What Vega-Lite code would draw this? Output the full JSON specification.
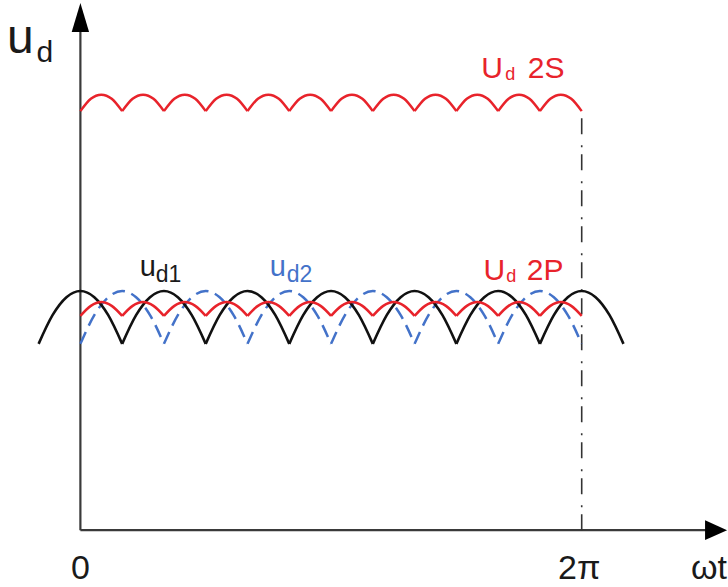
{
  "$schema": "https://vega.github.io/schema/vega-lite/v6.json",
  "width": 728,
  "height": 587,
  "autosize": {"type": "fit", "contains": "padding"},
  "padding": 0,
  "background": "white",
  "config": {"view": {"stroke": null}, "text": {"font": "Liberation Sans"}},
  "datasets": {
    "ud1": [
      {"g":0,"x":-30,"v":0.779},{"g":0,"x":-20,"v":0.899},{"g":0,"x":-10,"v":0.974},{"g":0,"x":0,"v":1.0},{"g":0,"x":10,"v":0.974},{"g":0,"x":20,"v":0.899},{"g":0,"x":30,"v":0.779},
      {"g":60,"x":30,"v":0.779},{"g":60,"x":40,"v":0.899},{"g":60,"x":50,"v":0.974},{"g":60,"x":60,"v":1.0},{"g":60,"x":70,"v":0.974},{"g":60,"x":80,"v":0.899},{"g":60,"x":90,"v":0.779},
      {"g":120,"x":90,"v":0.779},{"g":120,"x":100,"v":0.899},{"g":120,"x":110,"v":0.974},{"g":120,"x":120,"v":1.0},{"g":120,"x":130,"v":0.974},{"g":120,"x":140,"v":0.899},{"g":120,"x":150,"v":0.779},
      {"g":180,"x":150,"v":0.779},{"g":180,"x":160,"v":0.899},{"g":180,"x":170,"v":0.974},{"g":180,"x":180,"v":1.0},{"g":180,"x":190,"v":0.974},{"g":180,"x":200,"v":0.899},{"g":180,"x":210,"v":0.779},
      {"g":240,"x":210,"v":0.779},{"g":240,"x":220,"v":0.899},{"g":240,"x":230,"v":0.974},{"g":240,"x":240,"v":1.0},{"g":240,"x":250,"v":0.974},{"g":240,"x":260,"v":0.899},{"g":240,"x":270,"v":0.779},
      {"g":300,"x":270,"v":0.779},{"g":300,"x":280,"v":0.899},{"g":300,"x":290,"v":0.974},{"g":300,"x":300,"v":1.0},{"g":300,"x":310,"v":0.974},{"g":300,"x":320,"v":0.899},{"g":300,"x":330,"v":0.779},
      {"g":360,"x":330,"v":0.779},{"g":360,"x":340,"v":0.899},{"g":360,"x":350,"v":0.974},{"g":360,"x":360,"v":1.0},{"g":360,"x":370,"v":0.974},{"g":360,"x":380,"v":0.899},{"g":360,"x":390,"v":0.779}
    ],
    "ud2": [
      {"g":30,"x":0,"v":0.779},{"g":30,"x":10,"v":0.899},{"g":30,"x":20,"v":0.974},{"g":30,"x":30,"v":1.0},{"g":30,"x":40,"v":0.974},{"g":30,"x":50,"v":0.899},{"g":30,"x":60,"v":0.779},
      {"g":90,"x":60,"v":0.779},{"g":90,"x":70,"v":0.899},{"g":90,"x":80,"v":0.974},{"g":90,"x":90,"v":1.0},{"g":90,"x":100,"v":0.974},{"g":90,"x":110,"v":0.899},{"g":90,"x":120,"v":0.779},
      {"g":150,"x":120,"v":0.779},{"g":150,"x":130,"v":0.899},{"g":150,"x":140,"v":0.974},{"g":150,"x":150,"v":1.0},{"g":150,"x":160,"v":0.974},{"g":150,"x":170,"v":0.899},{"g":150,"x":180,"v":0.779},
      {"g":210,"x":180,"v":0.779},{"g":210,"x":190,"v":0.899},{"g":210,"x":200,"v":0.974},{"g":210,"x":210,"v":1.0},{"g":210,"x":220,"v":0.974},{"g":210,"x":230,"v":0.899},{"g":210,"x":240,"v":0.779},
      {"g":270,"x":240,"v":0.779},{"g":270,"x":250,"v":0.899},{"g":270,"x":260,"v":0.974},{"g":270,"x":270,"v":1.0},{"g":270,"x":280,"v":0.974},{"g":270,"x":290,"v":0.899},{"g":270,"x":300,"v":0.779},
      {"g":330,"x":300,"v":0.779},{"g":330,"x":310,"v":0.899},{"g":330,"x":320,"v":0.974},{"g":330,"x":330,"v":1.0},{"g":330,"x":340,"v":0.974},{"g":330,"x":350,"v":0.899},{"g":330,"x":360,"v":0.779}
    ],
    "p2": [
      {"g":0,"x":0,"v":0.896},{"g":0,"x":7.5,"v":0.938},{"g":0,"x":15,"v":0.954},{"g":0,"x":22.5,"v":0.938},{"g":0,"x":30,"v":0.896},
      {"g":1,"x":30,"v":0.896},{"g":1,"x":37.5,"v":0.938},{"g":1,"x":45,"v":0.954},{"g":1,"x":52.5,"v":0.938},{"g":1,"x":60,"v":0.896},
      {"g":2,"x":60,"v":0.896},{"g":2,"x":67.5,"v":0.938},{"g":2,"x":75,"v":0.954},{"g":2,"x":82.5,"v":0.938},{"g":2,"x":90,"v":0.896},
      {"g":3,"x":90,"v":0.896},{"g":3,"x":97.5,"v":0.938},{"g":3,"x":105,"v":0.954},{"g":3,"x":112.5,"v":0.938},{"g":3,"x":120,"v":0.896},
      {"g":4,"x":120,"v":0.896},{"g":4,"x":127.5,"v":0.938},{"g":4,"x":135,"v":0.954},{"g":4,"x":142.5,"v":0.938},{"g":4,"x":150,"v":0.896},
      {"g":5,"x":150,"v":0.896},{"g":5,"x":157.5,"v":0.938},{"g":5,"x":165,"v":0.954},{"g":5,"x":172.5,"v":0.938},{"g":5,"x":180,"v":0.896},
      {"g":6,"x":180,"v":0.896},{"g":6,"x":187.5,"v":0.938},{"g":6,"x":195,"v":0.954},{"g":6,"x":202.5,"v":0.938},{"g":6,"x":210,"v":0.896},
      {"g":7,"x":210,"v":0.896},{"g":7,"x":217.5,"v":0.938},{"g":7,"x":225,"v":0.954},{"g":7,"x":232.5,"v":0.938},{"g":7,"x":240,"v":0.896},
      {"g":8,"x":240,"v":0.896},{"g":8,"x":247.5,"v":0.938},{"g":8,"x":255,"v":0.954},{"g":8,"x":262.5,"v":0.938},{"g":8,"x":270,"v":0.896},
      {"g":9,"x":270,"v":0.896},{"g":9,"x":277.5,"v":0.938},{"g":9,"x":285,"v":0.954},{"g":9,"x":292.5,"v":0.938},{"g":9,"x":300,"v":0.896},
      {"g":10,"x":300,"v":0.896},{"g":10,"x":307.5,"v":0.938},{"g":10,"x":315,"v":0.954},{"g":10,"x":322.5,"v":0.938},{"g":10,"x":330,"v":0.896},
      {"g":11,"x":330,"v":0.896},{"g":11,"x":337.5,"v":0.938},{"g":11,"x":345,"v":0.954},{"g":11,"x":352.5,"v":0.938},{"g":11,"x":360,"v":0.896}
    ],
    "s2": [
      {"g":0,"x":0,"v":1.752},{"g":0,"x":7.5,"v":1.804},{"g":0,"x":15,"v":1.821},{"g":0,"x":22.5,"v":1.804},{"g":0,"x":30,"v":1.752},
      {"g":1,"x":30,"v":1.752},{"g":1,"x":37.5,"v":1.804},{"g":1,"x":45,"v":1.821},{"g":1,"x":52.5,"v":1.804},{"g":1,"x":60,"v":1.752},
      {"g":2,"x":60,"v":1.752},{"g":2,"x":67.5,"v":1.804},{"g":2,"x":75,"v":1.821},{"g":2,"x":82.5,"v":1.804},{"g":2,"x":90,"v":1.752},
      {"g":3,"x":90,"v":1.752},{"g":3,"x":97.5,"v":1.804},{"g":3,"x":105,"v":1.821},{"g":3,"x":112.5,"v":1.804},{"g":3,"x":120,"v":1.752},
      {"g":4,"x":120,"v":1.752},{"g":4,"x":127.5,"v":1.804},{"g":4,"x":135,"v":1.821},{"g":4,"x":142.5,"v":1.804},{"g":4,"x":150,"v":1.752},
      {"g":5,"x":150,"v":1.752},{"g":5,"x":157.5,"v":1.804},{"g":5,"x":165,"v":1.821},{"g":5,"x":172.5,"v":1.804},{"g":5,"x":180,"v":1.752},
      {"g":6,"x":180,"v":1.752},{"g":6,"x":187.5,"v":1.804},{"g":6,"x":195,"v":1.821},{"g":6,"x":202.5,"v":1.804},{"g":6,"x":210,"v":1.752},
      {"g":7,"x":210,"v":1.752},{"g":7,"x":217.5,"v":1.804},{"g":7,"x":225,"v":1.821},{"g":7,"x":232.5,"v":1.804},{"g":7,"x":240,"v":1.752},
      {"g":8,"x":240,"v":1.752},{"g":8,"x":247.5,"v":1.804},{"g":8,"x":255,"v":1.821},{"g":8,"x":262.5,"v":1.804},{"g":8,"x":270,"v":1.752},
      {"g":9,"x":270,"v":1.752},{"g":9,"x":277.5,"v":1.804},{"g":9,"x":285,"v":1.821},{"g":9,"x":292.5,"v":1.804},{"g":9,"x":300,"v":1.752},
      {"g":10,"x":300,"v":1.752},{"g":10,"x":307.5,"v":1.804},{"g":10,"x":315,"v":1.821},{"g":10,"x":322.5,"v":1.804},{"g":10,"x":330,"v":1.752},
      {"g":11,"x":330,"v":1.752},{"g":11,"x":337.5,"v":1.804},{"g":11,"x":345,"v":1.821},{"g":11,"x":352.5,"v":1.804},{"g":11,"x":360,"v":1.752}
    ],
    "axes": [
      {"x":0,"x2":0,"v":0,"v2":2.1},
      {"x":0,"x2":450,"v":0,"v2":0}
    ],
    "marker": [{"x":360,"v":0,"v2":1.752}],
    "arrowUp": [{"x":0,"v":2.144}],
    "arrowRight": [{"x":456.5,"v":0}],
    "labels": [
      {"role":"bigU","t":"u","x":-52.7,"v":1.996},
      {"role":"bigSub","t":"d","x":-31.6,"v":1.958},
      {"role":"tick","t":"0","x":0,"v":-0.206},
      {"role":"tick","t":"2π","x":358.2,"v":-0.204},
      {"role":"tick","t":"ωt","x":451.4,"v":-0.204},
      {"role":"redU","t":"U","x":287.9,"v":1.892},
      {"role":"redSub","t":"d","x":305.1,"v":1.883},
      {"role":"redU","t":"2S","x":321.3,"v":1.892},
      {"role":"redU","t":"U","x":289.4,"v":1.046},
      {"role":"redSub","t":"d","x":305.9,"v":1.0375},
      {"role":"redU","t":"2P","x":320.6,"v":1.046},
      {"role":"blackU","t":"u","x":42.7,"v":1.0625},
      {"role":"blackSub","t":"d1","x":54.1,"v":1.0375},
      {"role":"blueU","t":"u","x":135.9,"v":1.0625},
      {"role":"blueSub","t":"d2","x":148.1,"v":1.0375}
    ]
  },
  "encoding": {
    "x": {"field": "x", "type": "quantitative", "scale": {"domain": [-57.73, 464.34], "nice": false, "zero": false}, "axis": null},
    "y": {"field": "v", "type": "quantitative", "scale": {"domain": [-0.2292, 2.2167], "nice": false, "zero": false}, "axis": null}
  },
  "layer": [
    {"data": {"name": "axes"}, "mark": {"type": "rule", "color": "#3a3a3a", "strokeWidth": 2.2}, "encoding": {"x2": {"field": "x2"}, "y2": {"field": "v2"}}},
    {"data": {"name": "marker"}, "mark": {"type": "rule", "color": "#333333", "strokeWidth": 1.6, "strokeDash": [16, 7, 2, 11]}, "encoding": {"y2": {"field": "v2"}}},
    {"data": {"name": "arrowUp"}, "mark": {"type": "point", "filled": true, "opacity": 1, "color": "#000000", "size": 841, "shape": "M0,-1L0.6,1L-0.6,1Z"}},
    {"data": {"name": "arrowRight"}, "mark": {"type": "point", "filled": true, "opacity": 1, "color": "#000000", "size": 484, "shape": "M1,0L-1,-0.9L-1,0.9Z"}},
    {"data": {"name": "ud2"}, "mark": {"type": "line", "color": "#4372c9", "strokeWidth": 2.5, "strokeDash": [13, 7], "interpolate": "monotone"}, "encoding": {"detail": {"field": "g"}}},
    {"data": {"name": "ud1"}, "mark": {"type": "line", "color": "#111111", "strokeWidth": 2.6, "interpolate": "monotone"}, "encoding": {"detail": {"field": "g"}}},
    {"data": {"name": "p2"}, "mark": {"type": "line", "color": "#e8232b", "strokeWidth": 2.5, "interpolate": "monotone"}, "encoding": {"detail": {"field": "g"}}},
    {"data": {"name": "s2"}, "mark": {"type": "line", "color": "#e8232b", "strokeWidth": 2.5, "interpolate": "monotone"}, "encoding": {"detail": {"field": "g"}}},
    {"data": {"name": "labels"}, "transform": [{"filter": "datum.role == 'bigU'"}], "mark": {"type": "text", "align": "left", "baseline": "alphabetic", "fontSize": 48, "color": "#1a1a1a"}, "encoding": {"text": {"field": "t"}}},
    {"data": {"name": "labels"}, "transform": [{"filter": "datum.role == 'bigSub'"}], "mark": {"type": "text", "align": "left", "baseline": "alphabetic", "fontSize": 30, "color": "#1a1a1a"}, "encoding": {"text": {"field": "t"}}},
    {"data": {"name": "labels"}, "transform": [{"filter": "datum.role == 'tick'"}], "mark": {"type": "text", "align": "center", "baseline": "alphabetic", "fontSize": 34, "color": "#1a1a1a"}, "encoding": {"text": {"field": "t"}}},
    {"data": {"name": "labels"}, "transform": [{"filter": "datum.role == 'redU'"}], "mark": {"type": "text", "align": "left", "baseline": "alphabetic", "fontSize": 30, "color": "#e8232b"}, "encoding": {"text": {"field": "t"}}},
    {"data": {"name": "labels"}, "transform": [{"filter": "datum.role == 'redSub'"}], "mark": {"type": "text", "align": "left", "baseline": "alphabetic", "fontSize": 18, "color": "#e8232b"}, "encoding": {"text": {"field": "t"}}},
    {"data": {"name": "labels"}, "transform": [{"filter": "datum.role == 'blackU'"}], "mark": {"type": "text", "align": "left", "baseline": "alphabetic", "fontSize": 29, "color": "#1a1a1a"}, "encoding": {"text": {"field": "t"}}},
    {"data": {"name": "labels"}, "transform": [{"filter": "datum.role == 'blackSub'"}], "mark": {"type": "text", "align": "left", "baseline": "alphabetic", "fontSize": 23, "color": "#1a1a1a"}, "encoding": {"text": {"field": "t"}}},
    {"data": {"name": "labels"}, "transform": [{"filter": "datum.role == 'blueU'"}], "mark": {"type": "text", "align": "left", "baseline": "alphabetic", "fontSize": 29, "color": "#4372c9"}, "encoding": {"text": {"field": "t"}}},
    {"data": {"name": "labels"}, "transform": [{"filter": "datum.role == 'blueSub'"}], "mark": {"type": "text", "align": "left", "baseline": "alphabetic", "fontSize": 23, "color": "#4372c9"}, "encoding": {"text": {"field": "t"}}}
  ]
}
